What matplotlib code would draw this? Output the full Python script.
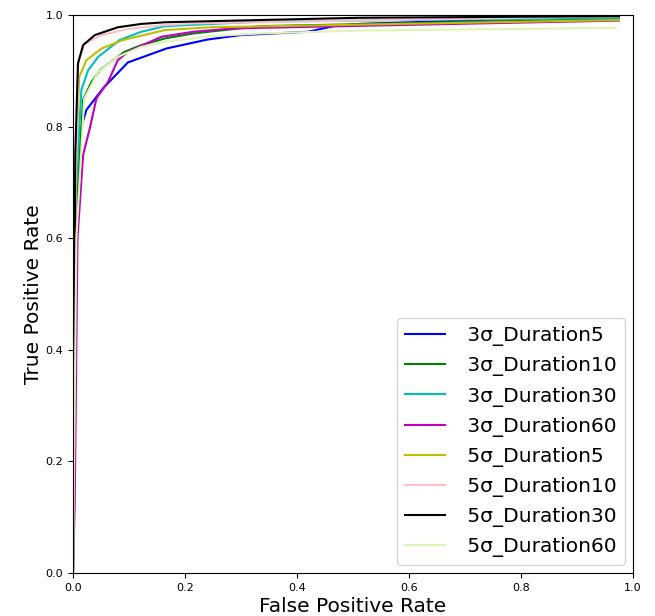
import matplotlib
matplotlib.use("Agg")
import matplotlib.pyplot as plt

labels = ["3σ_Duration5", "3σ_Duration10", "3σ_Duration30", "3σ_Duration60",
          "5σ_Duration5", "5σ_Duration10", "5σ_Duration30", "5σ_Duration60"]
colors = ["b", "g", "c", "m", "y", "pink", "k", "#dff5b5"]

fpr_3s_d5 = [0.0, 0.005, 0.015, 0.024, 0.054, 0.098, 0.134, 0.167, 0.24, 0.30, 0.42, 0.465, 0.51, 0.975]
tpr_3s_d5 = [0.0, 0.60, 0.80, 0.830, 0.869, 0.915, 0.928, 0.940, 0.956, 0.964, 0.970, 0.980, 0.984, 0.999]

fpr_3s_d10 = [0.0, 0.006, 0.018, 0.033, 0.048, 0.092, 0.122, 0.164, 0.215, 0.334, 0.975]
tpr_3s_d10 = [0.0, 0.65, 0.848, 0.880, 0.901, 0.934, 0.946, 0.958, 0.967, 0.980, 0.993]

fpr_3s_d30 = [0.0, 0.005, 0.015, 0.027, 0.045, 0.083, 0.122, 0.164, 0.334, 0.975]
tpr_3s_d30 = [0.0, 0.68, 0.866, 0.901, 0.925, 0.955, 0.970, 0.980, 0.988, 0.995]

fpr_3s_d60 = [0.0, 0.003, 0.008, 0.018, 0.030, 0.042, 0.0625, 0.080, 0.098, 0.158, 0.215, 0.286, 0.975]
tpr_3s_d60 = [0.0, 0.12, 0.60, 0.749, 0.797, 0.851, 0.880, 0.919, 0.934, 0.961, 0.970, 0.976, 0.990]

fpr_5s_d5 = [0.0, 0.004, 0.011, 0.024, 0.051, 0.089, 0.164, 0.245, 0.975]
tpr_5s_d5 = [0.0, 0.70, 0.889, 0.919, 0.940, 0.955, 0.973, 0.978, 0.991]

fpr_5s_d10 = [0.0, 0.003, 0.0095, 0.021, 0.051, 0.098, 0.164, 0.215, 0.975]
tpr_5s_d10 = [0.0, 0.60, 0.917, 0.949, 0.964, 0.975, 0.982, 0.985, 0.998]

fpr_5s_d30 = [0.0, 0.004, 0.0089, 0.018, 0.039, 0.080, 0.122, 0.164, 0.334, 0.51, 0.975]
tpr_5s_d30 = [0.0, 0.75, 0.913, 0.946, 0.964, 0.978, 0.984, 0.987, 0.991, 0.995, 0.998]

fpr_5s_d60 = [0.0, 0.006, 0.020, 0.045, 0.080, 0.122, 0.164, 0.245, 0.334, 0.51, 0.969]
tpr_5s_d60 = [0.0, 0.60, 0.85, 0.898, 0.925, 0.943, 0.952, 0.962, 0.967, 0.972, 0.977]

fprs = [fpr_3s_d5, fpr_3s_d10, fpr_3s_d30, fpr_3s_d60, fpr_5s_d5, fpr_5s_d10, fpr_5s_d30, fpr_5s_d60]
tprs = [tpr_3s_d5, tpr_3s_d10, tpr_3s_d30, tpr_3s_d60, tpr_5s_d5, tpr_5s_d10, tpr_5s_d30, tpr_5s_d60]

fig = plt.figure(figsize=(6.55, 6.16), dpi=100)
ax = fig.add_axes([73 / 655, 43 / 616, 560 / 655, 558 / 616])

for f, t, c, lab in zip(fprs, tprs, colors, labels):
    ax.plot(f, t, color=c, lw=1.5, label=" " + lab)

ax.set_xlim(0, 1)
ax.set_ylim(0, 1)
ax.tick_params(labelsize=8)
ax.set_xlabel("False Positive Rate", fontsize=14.5, labelpad=3)
ax.set_ylabel("True Positive Rate", fontsize=14.5, labelpad=2)
ax.legend(loc="lower right", fontsize=14.5, labelspacing=0.5, borderaxespad=0.4)

fig.savefig("out.png", dpi=100)
